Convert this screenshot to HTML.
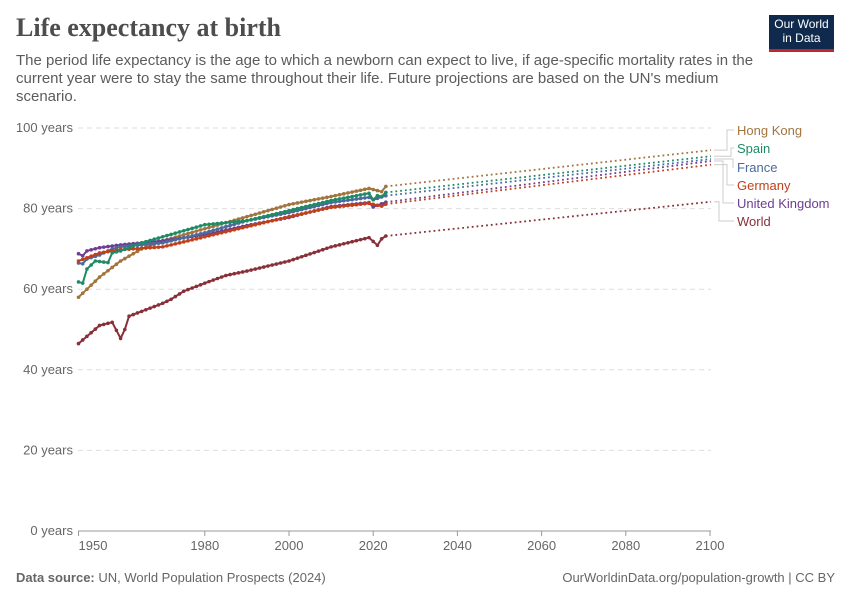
<!DOCTYPE html>
<html><head><meta charset="utf-8"><style>
body{margin:0;background:#fff;font-family:"Liberation Sans",sans-serif;}
.t{position:absolute;left:16px;top:13px;font-family:"Liberation Serif",serif;font-size:26px;font-weight:bold;color:#4d4d4d;}
.s{position:absolute;left:16px;top:52px;width:750px;font-size:15px;line-height:18px;color:#5b5b5b;}
.logo{position:absolute;left:769px;top:15px;width:65px;height:37px;background:#0f2a4d;color:#fff;font-size:12px;text-align:center;line-height:14px;padding-top:2px;box-sizing:border-box;border-bottom:3px solid #c0262d;}
</style></head><body>
<div style="position:relative;width:850px;height:600px;overflow:hidden">
<div class="t">Life expectancy at birth</div>
<div class="s">The period life expectancy is the age to which a newborn can expect to live, if age-specific mortality rates in the current year were to stay the same throughout their life. Future projections are based on the UN's medium scenario.</div>
<div class="logo">Our World<br>in Data</div>
<svg id="c" width="850" height="600" style="position:absolute;left:0;top:0" font-family="Liberation Sans, sans-serif"></svg>
</div>
<script>
const X=y=>78.5+(y-1950)*4.21, Y=v=>531-v*4.03;
let s='';
[0,20,40,60,80,100].forEach(v=>{
 if(v>0)s+=`<line x1="78" x2="711" y1="${Y(v)}" y2="${Y(v)}" stroke="#ddd" stroke-dasharray="5,4"/>`;
 s+=`<text x="73" y="${Y(v)+4}" text-anchor="end" font-size="13" fill="#666">${v} years</text>`;
});
s+=`<line x1="78" x2="711" y1="531" y2="531" stroke="#999"/>`;
[1950,1980,2000,2020,2040,2060,2080,2100].forEach(y=>{
 s+=`<line x1="${X(y)}" x2="${X(y)}" y1="531" y2="536" stroke="#999"/><text x="${y==1950?93:X(y)}" y="550" text-anchor="middle" font-size="13" fill="#666">${y}</text>`;
});
const D={
"#883039":[[1950,46.5],[1955,51],[1958,51.8],[1960,47.8],[1961,50],[1962,53.3],[1965,54.5],[1970,56.5],[1972,57.5],[1975,59.5],[1980,61.5],[1985,63.4],[1990,64.5],[2000,67],[2010,70.5],[2019,72.8],[2021,70.9],[2022,72.5],[2023,73.2],[2100,81.7]],
"#a2753f":[[1950,58],[1955,63],[1960,67],[1965,70],[1970,72],[1980,75],[1990,78],[2000,81],[2010,83],[2019,85],[2022,84.2],[2023,85.5],[2100,94.5]],
"#6d3e91":[[1950,68.8],[1951,68.3],[1952,69.5],[1955,70.3],[1960,71],[1970,72],[1980,73.5],[1990,75.8],[2000,77.8],[2010,80.5],[2019,81.5],[2020,80.4],[2023,81.6],[2100,91.8]],
"#4c6a9c":[[1950,66.5],[1951,66.3],[1952,67.5],[1955,68.5],[1958,70],[1960,70.5],[1970,71.5],[1980,74],[1990,77],[2000,79],[2010,81.5],[2019,82.8],[2020,82.2],[2023,83.2],[2100,92.3]],
"#c0401a":[[1950,67],[1955,69],[1960,69.8],[1970,70.5],[1980,73],[1990,75.5],[2000,78],[2010,80.3],[2019,81.3],[2022,80.6],[2023,81.1],[2100,90.9]],
"#1f8a66":[[1950,61.8],[1951,61.5],[1952,65],[1954,67],[1957,66.6],[1958,69],[1960,69.5],[1965,71.5],[1970,73],[1975,74.5],[1980,76],[1985,76.5],[1990,77],[2000,79.5],[2010,82],[2019,83.8],[2020,82.2],[2021,83.2],[2022,83],[2023,84],[2100,93]]};
function at(p,y){for(let i=0;i<p.length-1;i++){if(y>=p[i][0]&&y<=p[i+1][0]){const t=(y-p[i][0])/(p[i+1][0]-p[i][0]);return p[i][1]+t*(p[i+1][1]-p[i][1]);}}}
for(const c in D){const p=D[c];let pts=[];
 for(let y=1950;y<=2023;y++)pts.push([X(y),Y(at(p,y))]);
 s+=`<polyline fill="none" stroke="${c}" stroke-width="2" points="${pts.map(q=>q.join(',')).join(' ')}"/>`;
 pts.forEach(q=>s+=`<circle cx="${q[0]}" cy="${q[1]}" r="1.8" fill="${c}"/>`);
 s+=`<line x1="${X(2023)}" y1="${Y(at(p,2023))}" x2="711" y2="${Y(p[p.length-1][1])}" stroke="${c}" stroke-width="1.8" stroke-dasharray="1.8,3"/>`;
}
const L=[["Hong Kong","#a2753f",130],["Spain","#1f8a66",148],["France","#4c6a9c",167],["Germany","#c0401a",185],["United Kingdom","#6d3e91",203],["World","#883039",221]];
const ys=[Y(94.5),Y(93),Y(92.3),Y(90.9),Y(91.8),Y(81.7)];
const bx=[727,731,733,727,723,719];
L.forEach((l,i)=>{
 s+=`<polyline fill="none" stroke="#ccc" points="714,${ys[i]} ${bx[i]},${ys[i]} ${bx[i]},${l[2]} 734,${l[2]}"/>`;
 s+=`<text x="737" y="${l[2]+5}" font-size="13" fill="${l[1]}">${l[0]}</text>`;
});
s+=`<text x="16" y="582" font-size="13" fill="#666"><tspan font-weight="bold">Data source:</tspan> UN, World Population Prospects (2024)</text>`;
s+=`<text x="835" y="582" text-anchor="end" font-size="13" fill="#666">OurWorldinData.org/population-growth | CC BY</text>`;
document.getElementById('c').innerHTML=s;
</script>
</body></html>
